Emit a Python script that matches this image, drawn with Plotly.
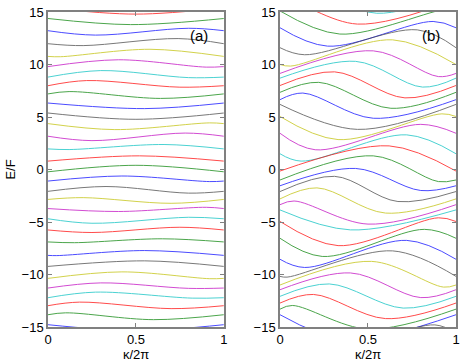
import plotly.graph_objects as go

# MATLAB-style colour order (blue, green, red, cyan, magenta, yellow, dark grey)
colour_cycle = ['#0000ff', '#008000', '#ff0000', '#00bfbf', '#bf00bf', '#bfbf00', '#404040']

# ---- panel (a): band index, E at kappa=0 (=1), position/value of max and min ----
a_n = list(range(15, -16, -1))
a_e0 = [15.4, 14.38, 13.22, 11.98, 10.77, 9.8, 8.8, 7.98, 7.2, 6.33, 5.38, 4.37, 3.17, 1.96, 0.8, -0.22,
        -1.1, -2.08, -2.85, -3.72, -4.69, -5.76, -6.9, -8.18, -9.23, -10.37, -11.29, -12.21, -12.97, -13.83, -14.78]
a_max_k = [0.0, 0.98, 0.8, 0.74, 0.58, 0.4, 0.3, 0.22, 0.12, 0.02, 0.0, 0.92, 0.78, 0.66, 0.52, 0.5,
           0.42, 0.33, 0.2, 0.9, 0.8, 0.75, 0.65, 0.55, 0.55, 0.42, 0.3, 0.27, 0.18, 0.1, 0.0]
a_max_e = [15.4, 14.42, 13.45, 12.47, 11.45, 10.45, 9.42, 8.47, 7.42, 6.35, 5.38, 4.44, 3.47, 2.38, 1.3, 0.4,
           -0.62, -1.62, -2.68, -3.6, -4.55, -5.5, -6.6, -7.72, -8.7, -9.75, -10.8, -11.68, -12.63, -13.65, -14.78]
a_min_k = [0.5, 0.47, 0.27, 0.2, 0.07, 0.9, 0.8, 0.75, 0.64, 0.55, 0.5, 0.38, 0.25, 0.12, 0.02, 0.0,
           0.92, 0.8, 0.7, 0.4, 0.25, 0.25, 0.15, 0.05, 0.0, 0.92, 0.8, 0.82, 0.7, 0.6, 0.5]
a_min_e = [14.8, 13.8, 12.8, 11.8, 10.74, 9.75, 8.75, 7.84, 6.77, 5.8, 4.78, 3.8, 2.75, 1.9, 0.78, -0.22,
           -1.15, -2.25, -3.22, -4.0, -5.12, -6.0, -6.97, -8.2, -9.23, -10.4, -11.32, -12.25, -13.25, -14.3, -15.35]

# ---- panel (b) ----
b_n = list(range(16, -17, -1))
b_e0 = [16.9, 16.2, 15.1, 13.5, 11.6, 10.0, 9.15, 8.7, 8.0, 7.35, 6.65, 6.2, 5.05, 3.45, 1.5, -0.15, -1.0,
        -1.55, -2.1, -2.8, -3.35, -3.85, -4.95, -6.55, -8.55, -10.18, -11.0, -11.45, -12.08, -12.72, -13.3, -13.83, -15.6]
b_peak_k = [0.15, 0.04, 0.96, 0.87, 0.78, 0.64, 0.53, 0.43, 0.31, 0.22, 0.13, 0.02, 0.92, 0.8, 0.72, 0.62, 0.53,
            0.43, 0.31, 0.21, 0.08, 0.97, 0.9, 0.82, 0.72, 0.64, 0.52, 0.4, 0.28, 0.19, 0.07, 0.98, 0.88]
b_peak_e = [17.3, 16.25, 15.3, 14.1, 13.3, 12.35, 11.3, 10.3, 9.3, 8.3, 7.28, 6.3, 5.3, 4.3, 3.3, 2.25, 1.3,
            0.1, -0.65, -1.75, -3.0, -3.7, -4.6, -5.7, -6.75, -7.75, -8.75, -9.85, -10.9, -11.9, -12.95, -13.8, -14.8]
b_min_k = [0.55, 0.44, 0.34, 0.27, 0.14, 0.06, 0.9, 0.81, 0.71, 0.63, 0.53, 0.44, 0.33, 0.2, 0.12, 0.0, 0.9,
           0.8, 0.67, 0.6, 0.5, 0.4, 0.33, 0.24, 0.14, 0.04, 0.93, 0.8, 0.7, 0.6, 0.5, 0.38, 0.28]
b_min_e = [14.88, 13.85, 12.9, 11.75, 10.93, 9.85, 8.85, 7.85, 6.82, 5.83, 4.88, 3.82, 2.85, 1.88, 0.8, -0.15, -1.15,
           -2.0, -3.05, -4.15, -5.2, -5.75, -7.25, -8.28, -9.33, -10.25, -11.2, -12.2, -13.2, -14.2, -15.2, -16.2, -17.2]


def knots(e0, pk, pe, mk, me):
    pts = [(0.0, e0), (1.0, e0)]
    for k, e in ((pk, pe), (mk, me)):
        if 0.03 < k < 0.97:
            pts.append((k, e))
    pts.sort()
    return [p[0] for p in pts], [p[1] for p in pts]


fig = go.Figure()

for i, n in enumerate(a_n):
    kx, ey = knots(a_e0[i], a_max_k[i], a_max_e[i], a_min_k[i], a_min_e[i])
    fig.add_trace(go.Scatter(x=kx, y=ey, mode='lines', xaxis='x', yaxis='y',
                             line=dict(color=colour_cycle[(n - 13) % 7], width=1, shape='spline', smoothing=1.0),
                             opacity=0.7, showlegend=False, hoverinfo='skip'))

for i, n in enumerate(b_n):
    kx, ey = knots(b_e0[i], b_peak_k[i], b_peak_e[i], b_min_k[i], b_min_e[i])
    fig.add_trace(go.Scatter(x=kx, y=ey, mode='lines', xaxis='x2', yaxis='y2',
                             line=dict(color=colour_cycle[(n - 13) % 7], width=1, shape='spline', smoothing=1.0),
                             opacity=0.7, showlegend=False, hoverinfo='skip'))

font = dict(family='Liberation Sans, Arial, sans-serif', size=13, color='black')
ax_common = dict(showline=True, linecolor='#808080', linewidth=1.5, mirror='ticks', ticks='inside',
                 ticklen=4, tickcolor='#808080', showgrid=False, zeroline=False, tickfont=font,
                 automargin=False, ticklabeloverflow='allow')

fig.update_layout(
    width=463, height=364,
    margin=dict(l=48, r=7, t=12, b=37),
    paper_bgcolor='white', plot_bgcolor='white',
    font=font,
    xaxis=dict(domain=[0, 0.431], range=[0, 1], tickvals=[0, 0.5, 1], ticktext=['0', '0.5', '1'],
               anchor='y', **ax_common),
    yaxis=dict(range=[-15, 15], tickvals=[-15, -10, -5, 0, 5, 10, 15], anchor='x', **ax_common),
    xaxis2=dict(domain=[0.5686, 1], range=[0, 1], tickvals=[0, 0.5, 1], ticktext=['0', '0.5', '1'],
                anchor='y2', **ax_common),
    yaxis2=dict(range=[-15, 15], tickvals=[-15, -10, -5, 0, 5, 10, 15], anchor='x2', **ax_common),
    annotations=[
        dict(text='(a)', x=0.86, y=12.75, xref='x', yref='y', showarrow=False, font=dict(family=font['family'], size=15)),
        dict(text='(b)', x=0.86, y=12.75, xref='x2', yref='y2', showarrow=False, font=dict(family=font['family'], size=15)),
        dict(text='κ/2π', x=0.5, y=-0.087, xref='x domain', yref='paper', showarrow=False, yanchor='middle', font=font),
        dict(text='κ/2π', x=0.5, y=-0.087, xref='x2 domain', yref='paper', showarrow=False, yanchor='middle', font=font),
        dict(text='E/F', x=-0.093, y=0.5, xref='paper', yref='paper', showarrow=False, textangle=-90,
             xanchor='center', yanchor='middle', font=font),
    ],
)

# the page body's default margin would push the 463x364 figure off the window
fig.write_html("out.html", config={'displayModeBar': False},
               post_script="document.body.style.margin='0px';")
